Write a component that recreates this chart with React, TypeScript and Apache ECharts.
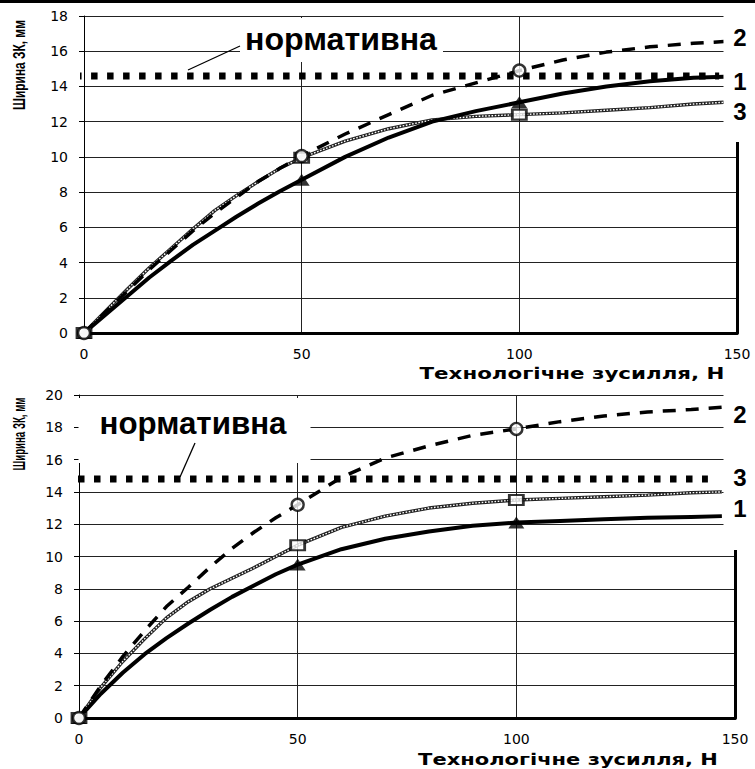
import { useEffect, useRef } from "react";
import * as echarts from "echarts";

// ---------- data ----------
const X = [0, 5, 10, 15, 20, 25, 30, 35, 40, 45, 50, 60, 70, 80, 90, 100, 110, 120, 130, 140, 147];

const TOP_S1 = [0, 1.05, 2.1, 3.15, 4.1, 5.0, 5.8, 6.6, 7.35, 8.05, 8.7, 10.0, 11.1, 12.0, 12.6, 13.1, 13.6, 14.0, 14.3, 14.5, 14.55];
const TOP_S2 = [0, 1.2, 2.4, 3.6, 4.7, 5.8, 6.8, 7.7, 8.6, 9.35, 10.05, 11.3, 12.4, 13.5, 14.2, 14.9, 15.5, 15.95, 16.25, 16.45, 16.55];
const TOP_S3 = [0, 1.25, 2.5, 3.7, 4.8, 5.9, 6.95, 7.8, 8.6, 9.35, 9.95, 10.9, 11.6, 12.1, 12.3, 12.4, 12.5, 12.65, 12.8, 13.0, 13.1];

const BOT_S1 = [0, 1.5, 2.8, 3.95, 4.95, 5.85, 6.7, 7.5, 8.2, 8.9, 9.5, 10.45, 11.1, 11.55, 11.9, 12.1, 12.2, 12.3, 12.4, 12.45, 12.5];
const BOT_S2 = [0, 2.0, 3.8, 5.4, 6.9, 8.1, 9.35, 10.5, 11.5, 12.4, 13.2, 14.9, 16.1, 16.85, 17.5, 17.9, 18.35, 18.7, 18.95, 19.1, 19.25];
const BOT_S3 = [0, 1.9, 3.5, 4.9, 6.2, 7.2, 8.0, 8.65, 9.3, 10.0, 10.7, 11.8, 12.5, 13.0, 13.3, 13.5, 13.6, 13.7, 13.8, 13.95, 14.0];

const MARKER_X = [0, 50, 100];

const NORM_TOP = 14.6;
const NORM_BOT = 14.8;
const NORM_X_TOP = [-9.4, 145.9];
const NORM_X_BOT = [-11.2, 143.8];

const X_MIN = 0;
const X_MAX = 150;
const X_INTERVAL = 50;
const TOP_Y_MAX = 18;
const BOT_Y_MAX = 20;
const Y_INTERVAL = 2;

const Y_TITLE = "Ширина ЗК, мм";
const X_TITLE = "Технологічне зусилля, Н";
const NORM_LABEL = "нормативна";
const TOP_CURVE_LABELS = ["2", "1", "3"];
const BOT_CURVE_LABELS = ["2", "3", "1"];

// ---------- helpers ----------
const pts = (ys: number[]) => X.map((x, i) => [x, ys[i]]);
const markers = (ys: number[]) => X.map((x, i) => [x, ys[i]]).filter((p) => MARKER_X.includes(p[0]));

function measure(text: string, font: string): number {
  const c = document.createElement("canvas").getContext("2d");
  if (!c) return 100;
  c.font = font;
  return c.measureText(text).width;
}

const FONT_TICK = "DejaVu Sans";

function curveSeries(xi: number, s1: number[], s2: number[], s3: number[], normY: number, normX: number[]) {
  const common = { xAxisIndex: xi, yAxisIndex: xi * 2, showSymbol: false, symbol: "none", smooth: false, silent: true };
  return [
    {
      ...common,
      type: "line",
      data: [[normX[0], normY], [normX[1], normY]],
      clip: false,
      lineStyle: { color: "#000", width: 7, type: [6.5, 9.5], cap: "butt" },
      z: 2,
    },
    { ...common, type: "line", data: pts(s3), lineStyle: { color: "#222", width: 3.4 }, z: 3 },
    { ...common, type: "line", data: pts(s3), lineStyle: { color: "#fff", width: 1.4, type: [1.6, 1.6] }, z: 4 },
    { ...common, type: "line", data: pts(s1), lineStyle: { color: "#000", width: 4, join: "round" }, z: 5 },
    { ...common, type: "line", data: pts(s2), lineStyle: { color: "#000", width: 3.5, type: [13, 10] }, z: 6 },
    {
      type: "scatter", xAxisIndex: xi, yAxisIndex: xi * 2, data: markers(s1), symbol: "triangle",
      symbolSize: [16, 12], itemStyle: { color: "#000" }, z: 10, silent: true,
    },
    {
      type: "scatter", xAxisIndex: xi, yAxisIndex: xi * 2, data: markers(s3), symbol: "rect",
      symbolSize: [14, 10], itemStyle: { color: "#fff", borderColor: "#000", borderWidth: 2.4 }, z: 11, silent: true,
    },
    {
      type: "scatter", xAxisIndex: xi, yAxisIndex: xi * 2, data: markers(s2), symbol: "circle",
      symbolSize: 12, itemStyle: { color: "#fff", borderColor: "#000", borderWidth: 2.4 }, z: 12, silent: true,
    },
  ];
}

function xAxisCfg(gi: number) {
  return {
    type: "value", gridIndex: gi, min: X_MIN, max: X_MAX, interval: X_INTERVAL,
    axisLine: { show: true, onZero: false, lineStyle: { color: "#000", width: 3 } },
    axisTick: { show: false },
    axisLabel: { color: "#000", fontFamily: FONT_TICK, fontSize: 14, margin: 14 },
    splitLine: { show: true, lineStyle: { color: "#222", width: 1 } },
  };
}

function yAxisLeft(gi: number, max: number) {
  return {
    type: "value", gridIndex: gi, min: 0, max, interval: Y_INTERVAL, position: "left",
    axisLine: { show: true, lineStyle: { color: "#000", width: 1 } },
    axisTick: { show: true, inside: false, length: 5, lineStyle: { color: "#000" } },
    axisLabel: { color: "#000", fontFamily: FONT_TICK, fontSize: 14, margin: 16 },
    splitLine: { show: true, lineStyle: { color: "#222", width: 1 } },
  };
}

function yAxisRight(gi: number, max: number) {
  return {
    type: "value", gridIndex: gi, min: 0, max, interval: Y_INTERVAL, position: "right",
    axisLine: { show: true, lineStyle: { color: "#000", width: 3 } },
    axisTick: { show: false }, axisLabel: { show: false }, splitLine: { show: false },
  };
}

export default function App() {
  const ref = useRef<HTMLDivElement>(null);

  useEffect(() => {
    if (!ref.current) return;
    const chart = echarts.init(ref.current, null, { renderer: "svg" });

    const fXT = 'bold 16px "DejaVu Sans"';
    const fYT = 'bold 17px "Liberation Sans"';
    const fNorm = 'bold 31px "Liberation Sans"';
    const wXT = measure(X_TITLE, fXT);
    const wYT = measure(Y_TITLE, fYT);
    const wNorm = measure(NORM_LABEL, fNorm);

    const txt = (text: string, x: number, y: number, font: string, extra: any = {}) => ({
      type: "text", x, y, z: 60,
      style: { text, font, fill: "#000", textAlign: "center", textVerticalAlign: "middle" },
      ...extra,
    });
    const white = (x: number, y: number, w: number, h: number) => ({
      type: "rect", z: 50, shape: { x, y, width: w, height: h }, style: { fill: "#fff" },
    });
    const lineEl = (x1: number, y1: number, x2: number, y2: number) => ({
      type: "line", z: 61, shape: { x1, y1, x2, y2 }, style: { stroke: "#000", lineWidth: 1.3 },
    });

    const graphic = [
      { type: "rect", z: 60, shape: { x: 0, y: 0, width: 755, height: 3 }, style: { fill: "#000" } },
      // covers
      white(240, 18, 203, 44),
      white(78.5, 398, 232, 65),
      white(723.5, 4, 32, 138),
      white(723.5, 388, 32, 162),
      // normative labels
      txt(NORM_LABEL, 341, 39, fNorm, { scaleX: 192 / wNorm }),
      txt(NORM_LABEL, 193, 424, fNorm, { scaleX: 187 / wNorm }),
      lineEl(188, 70, 240, 46),
      lineEl(180, 477, 195, 443),
      // curve labels
      txt(TOP_CURVE_LABELS[0], 740, 37, 'bold 24px "Liberation Sans"'),
      txt(TOP_CURVE_LABELS[1], 740, 81, 'bold 24px "Liberation Sans"'),
      txt(TOP_CURVE_LABELS[2], 740, 111, 'bold 24px "Liberation Sans"'),
      txt(BOT_CURVE_LABELS[0], 740, 414, 'bold 24px "Liberation Sans"'),
      txt(BOT_CURVE_LABELS[1], 740, 477, 'bold 24px "Liberation Sans"'),
      txt(BOT_CURVE_LABELS[2], 740, 508, 'bold 24px "Liberation Sans"'),
      // axis titles
      txt(X_TITLE, 572, 373, fXT, { scaleX: 305 / wXT }),
      txt(X_TITLE, 568, 759, fXT, { scaleX: 300 / wXT }),
      txt(Y_TITLE, 19, 65, fYT, { rotation: Math.PI / 2, scaleX: 90 / wYT }),
      txt(Y_TITLE, 19, 434, fYT, { rotation: Math.PI / 2, scaleX: 73 / wYT }),
    ];

    chart.setOption({
      animation: false,
      backgroundColor: "#fff",
      grid: [
        { left: 84, top: 16, width: 653, height: 317, containLabel: false },
        { left: 79, top: 395, width: 656, height: 323, containLabel: false },
      ],
      xAxis: [xAxisCfg(0), xAxisCfg(1)],
      yAxis: [yAxisLeft(0, TOP_Y_MAX), yAxisRight(0, TOP_Y_MAX), yAxisLeft(1, BOT_Y_MAX), yAxisRight(1, BOT_Y_MAX)],
      series: [
        ...curveSeries(0, TOP_S1, TOP_S2, TOP_S3, NORM_TOP, NORM_X_TOP),
        ...curveSeries(1, BOT_S1, BOT_S2, BOT_S3, NORM_BOT, NORM_X_BOT),
      ],
      graphic,
    });

    return () => chart.dispose();
  }, []);

  return (
    <div
      ref={ref}
      style={{ position: "absolute", left: 0, top: 0, width: 755, height: 769, background: "#fff" }}
    />
  );
}
